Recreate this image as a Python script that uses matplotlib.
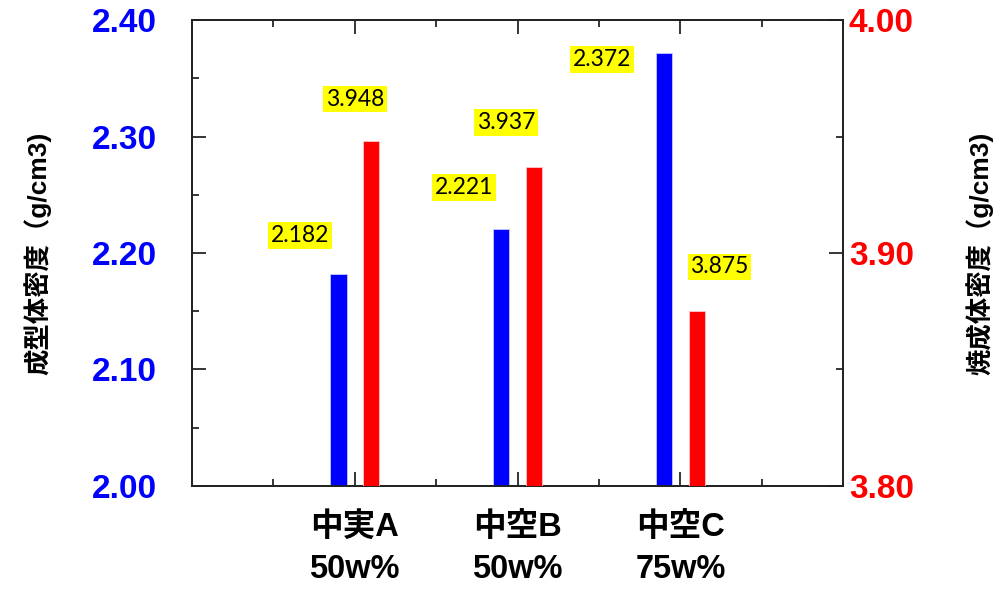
import numpy as np
import matplotlib
matplotlib.use('Agg')
import matplotlib.pyplot as plt
from matplotlib.ticker import MultipleLocator, FixedLocator, FormatStrFormatter

# sample names and measured densities (g/cm3)
samples = ['中実A\n50w%', '中空B\n50w%', '中空C\n75w%']
green_density = [2.182, 2.221, 2.372]    # 成型体密度, left axis
sintered_density = [3.948, 3.937, 3.875]  # 焼成体密度, right axis

green_label = '成型体密度（g/cm3)'
sintered_label = '焼成体密度（g/cm3)'

fam = ['Liberation Sans', 'Noto Sans CJK JP']

fig = plt.figure(figsize=(10.05, 5.89), dpi=100)
ax = fig.add_axes([0.191, 0.175, 0.648, 0.791])
ax2 = ax.twinx()

x = np.arange(1, len(samples) + 1)
w = 0.1
ax.bar(x - 0.1, green_density, width=w, color='#0000ff', edgecolor='#c8c8ff', linewidth=0.6, zorder=3)
ax2.bar(x + 0.1, sintered_density, width=w, color='#ff0000', edgecolor='#ffc8c8', linewidth=0.6, zorder=3)

ax.set_xlim(0, 4)
ax.set_ylim(2.0, 2.4)
ax2.set_ylim(3.8, 4.0)

# value labels on yellow boxes, nudged off the bars
box = dict(boxstyle='square,pad=0.12', fc='#ffff00', ec='none')
green_off = [(-0.236, 0.033), (-0.23, 0.035), (-0.38, -0.006)]
red_off = [(-0.1, 0.018), (-0.17, 0.019), (0.14, 0.019)]
for xi, v, (dx, dy) in zip(x, green_density, green_off):
    ax.text(xi - 0.1 + dx, v + dy, f'{v:.3f}', ha='center', va='center',
            fontsize=16.5, family='Lato', bbox=box, zorder=5)
for xi, v, (dx, dy) in zip(x, sintered_density, red_off):
    ax2.text(xi + 0.1 + dx, v + dy, f'{v:.3f}', ha='center', va='center',
             fontsize=16.5, family='Lato', bbox=box, zorder=5)

# ticks
ax.xaxis.set_major_locator(FixedLocator(x))
ax.xaxis.set_minor_locator(FixedLocator([0.5, 1.5, 2.5, 3.5]))
ax.set_xticklabels(samples, fontsize=23.5, fontweight='bold', family=fam, linespacing=1.45)
for a in (ax, ax2):
    a.yaxis.set_major_locator(MultipleLocator(0.1))
    a.yaxis.set_minor_locator(MultipleLocator(0.05))
    a.yaxis.set_major_formatter(FormatStrFormatter('%.2f'))
    a.tick_params(axis='y', which='both', direction='in', width=1.1, labelsize=24)
    a.tick_params(axis='y', which='major', length=10)
    a.tick_params(axis='y', which='minor', length=5)
    for s in a.spines.values():
        s.set_linewidth(1.3)
        s.set_color('#222222')

ax.tick_params(axis='x', which='both', direction='in', top=True, bottom=True, pad=19, width=1.1)
ax.tick_params(axis='x', which='major', length=10)
ax.tick_params(axis='x', which='minor', length=5)
ax.tick_params(axis='y', labelcolor='#0000ff', pad=25)
ax2.tick_params(axis='y', labelcolor='#ff0000', pad=4)
for lab in ax.get_yticklabels() + ax2.get_yticklabels():
    lab.set_fontweight('bold')
    lab.set_family('Liberation Sans')

ax.set_ylabel(green_label, fontsize=19, fontweight='bold', family=fam, va='center')
ax2.set_ylabel(sintered_label, fontsize=19, fontweight='bold', family=fam, va='center', rotation=90)
ax.yaxis.set_label_coords(-0.238, 0.5)
ax2.yaxis.set_label_coords(1.209, 0.5)

fig.savefig('out.png', dpi=100)
